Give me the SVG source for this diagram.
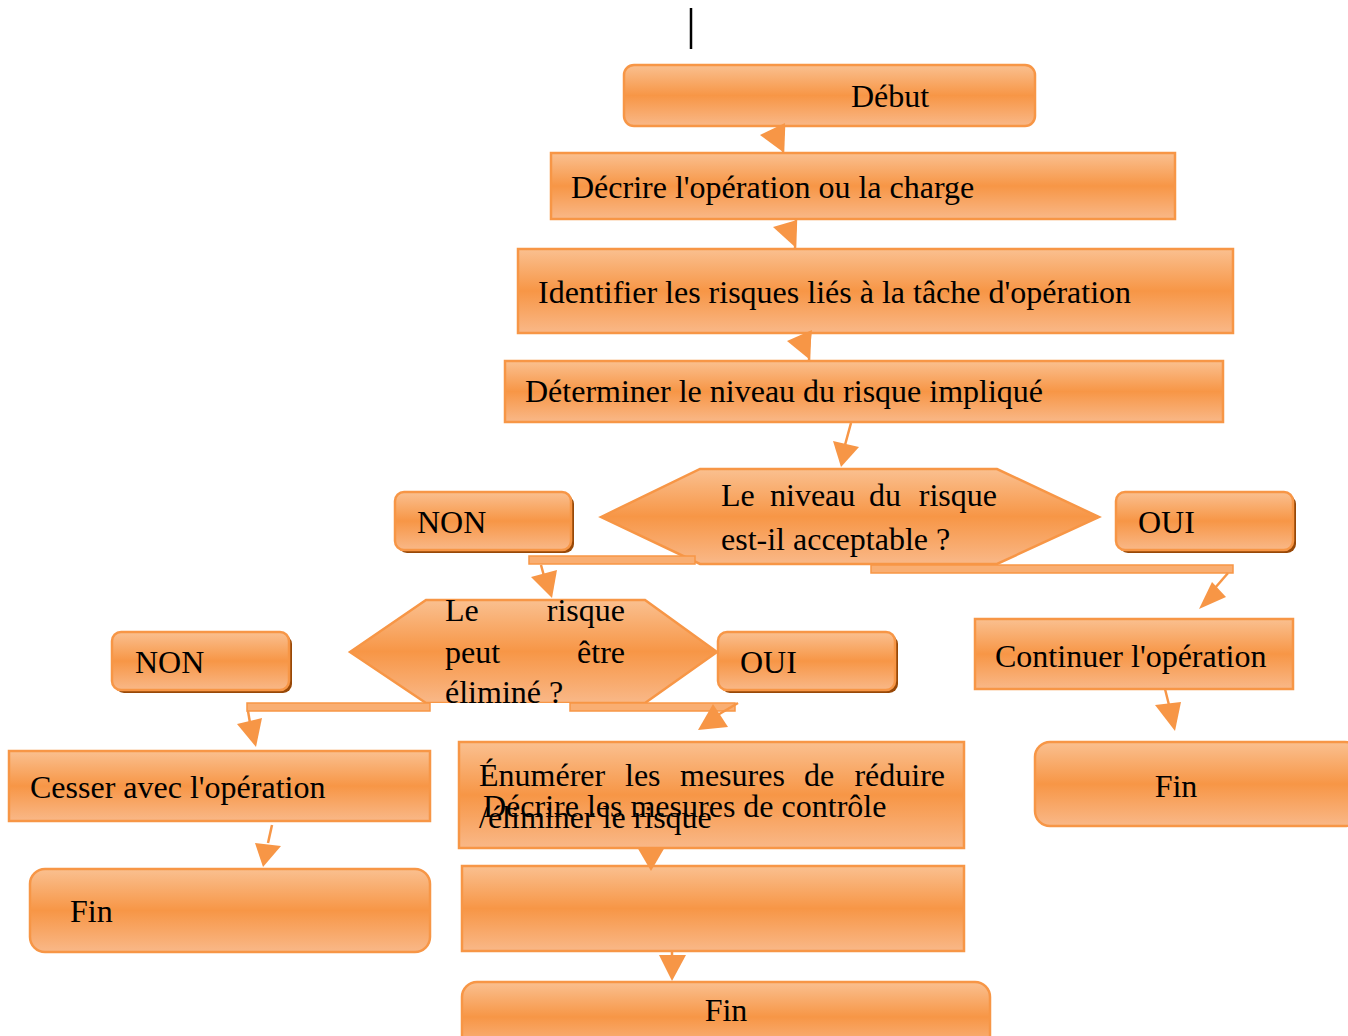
<svg xmlns="http://www.w3.org/2000/svg" width="1348" height="1036" viewBox="0 0 1348 1036">
<defs>
<linearGradient id="g" x1="0" y1="0" x2="0" y2="1">
<stop offset="0" stop-color="#fac090"/>
<stop offset="0.5" stop-color="#f79646"/>
<stop offset="1" stop-color="#f9b888"/>
</linearGradient>
<style>
.n{fill:url(#g);stroke:#f79646;stroke-width:2.5}
.sh{fill:#984807}
.t{font-size:32px;fill:#000}
.bar{fill:#f9ae72;stroke:#f79646;stroke-width:1.5}
.ln{stroke:#f79646;stroke-width:2.5;fill:none}
.ah{fill:#f79646}
</style>
</defs>
<rect width="1348" height="1036" fill="#fff"/>
<line x1="691" y1="8" x2="691" y2="49" stroke="#000" stroke-width="2.5"/>
<g font-family="Liberation Serif, Times New Roman, serif">
<g id="debut"><rect class="n" x="624" y="65" width="411" height="61" rx="10"/><text class="t" x="851" y="107">Début</text></g>
<g id="decrire"><rect class="n" x="551" y="153" width="624" height="66"/><text class="t" x="571" y="198">Décrire l'opération ou la charge</text></g>
<g id="identifier"><rect class="n" x="518" y="249" width="715" height="84"/><text class="t" x="538" y="303">Identifier les risques liés à la tâche d'opération</text></g>
<g id="determiner"><rect class="n" x="505" y="361" width="718" height="61"/><text class="t" x="525" y="402">Déterminer le niveau du risque impliqué</text></g>
<g id="decision1"><polygon class="n" points="601,517 700,469 997,469 1099,517 997,564 700,564"/><text class="t" y="506"><tspan x="721">Le</tspan><tspan x="770">niveau</tspan><tspan x="869">du</tspan><tspan x="997" text-anchor="end">risque</tspan></text><text class="t" x="721" y="550">est-il acceptable ?</text></g>
<g id="non1"><rect class="sh" x="398" y="495" width="176" height="58" rx="9"/><rect class="n" x="395" y="492" width="176" height="58" rx="9"/><text class="t" x="417" y="533">NON</text></g>
<g id="oui1"><rect class="sh" x="1119" y="495" width="177" height="58" rx="9"/><rect class="n" x="1116" y="492" width="177" height="58" rx="9"/><text class="t" x="1138" y="533">OUI</text></g>
<g id="decision2"><polygon class="n" points="350,652 426,600 645,600 717,652 645,703 426,703"/><rect x="430" y="703" width="140" height="10" fill="#fff"/><text class="t" y="621"><tspan x="445">Le</tspan><tspan x="625" text-anchor="end">risque</tspan></text><text class="t" y="663"><tspan x="445">peut</tspan><tspan x="625" text-anchor="end">être</tspan></text><text class="t" x="445" y="703">éliminé ?</text></g>
<g id="non2"><rect class="sh" x="115" y="635" width="177" height="58" rx="9"/><rect class="n" x="112" y="632" width="177" height="58" rx="9"/><text class="t" x="135" y="673">NON</text></g>
<g id="oui2"><rect class="sh" x="721" y="635" width="177" height="58" rx="9"/><rect class="n" x="718" y="632" width="177" height="58" rx="9"/><text class="t" x="740" y="673">OUI</text></g>
<g id="continuer"><rect class="n" x="975" y="619" width="318" height="70"/><text class="t" x="995" y="667">Continuer l'opération</text></g>
<g id="fin-droite"><rect class="n" x="1035" y="742" width="325" height="84" rx="15"/><text class="t" x="1176" y="797" text-anchor="middle">Fin</text></g>
<g id="cesser"><rect class="n" x="9" y="751" width="421" height="70"/><text class="t" x="30" y="798">Cesser avec l'opération</text></g>
<g id="fin-gauche"><rect class="n" x="30" y="869" width="400" height="83" rx="15"/><text class="t" x="70" y="922">Fin</text></g>
<g id="enumerer"><rect class="n" x="459" y="742" width="505" height="106"/><text class="t" y="786"><tspan x="479">Énumérer</tspan><tspan x="625">les</tspan><tspan x="680">mesures</tspan><tspan x="804">de</tspan><tspan x="945" text-anchor="end">réduire</tspan></text><text class="t" x="479" y="828">/éliminer le risque</text><text class="t" x="483" y="817">Décrire les mesures de contrôle</text></g>
<g id="controle"><rect class="n" x="462" y="866" width="502" height="85"/></g>
<g id="fin-bas"><rect class="n" x="462" y="982" width="528" height="70" rx="15"/><text class="t" x="726" y="1021" text-anchor="middle">Fin</text></g>
</g>
<g id="connectors">
<rect class="bar" x="529" y="556" width="166" height="8"/>
<rect class="bar" x="871" y="565" width="362" height="8"/>
<rect class="bar" x="247" y="703" width="183" height="8"/>
<rect class="bar" x="570" y="703" width="165" height="8"/>
<line class="ln" x1="784" y1="126" x2="783" y2="153"/>
<polygon class="ah" points="785,123 760,135 783,152"/>
<line class="ln" x1="796" y1="219" x2="795" y2="249"/>
<polygon class="ah" points="797,220 773,227 795,247"/>
<line class="ln" x1="810" y1="333" x2="809" y2="361"/>
<polygon class="ah" points="812,330 787,341 809,359"/>
<line class="ln" x1="851" y1="423" x2="845" y2="445"/>
<polygon class="ah" points="833,441 859,447 841,467"/>
<line class="ln" x1="541" y1="565" x2="544" y2="576"/>
<polygon class="ah" points="531,577 557,570 552,598"/>
<line class="ln" x1="1228" y1="573" x2="1215" y2="588"/>
<polygon class="ah" points="1212,582 1226,597 1199,609"/>
<line class="ln" x1="248" y1="711" x2="250" y2="723"/>
<polygon class="ah" points="237,724 262,718 256,747"/>
<line class="ln" x1="738" y1="703" x2="716" y2="716"/>
<polygon class="ah" points="713,704 728,727 698,730"/>
<line class="ln" x1="272" y1="825" x2="268" y2="843"/>
<polygon class="ah" points="255,843 281,846 263,867"/>
<polygon class="ah" points="637,847 665,847 651,871"/>
<line class="ln" x1="672" y1="951" x2="672" y2="957"/>
<polygon class="ah" points="659,955 686,955 672,981"/>
<line class="ln" x1="1165" y1="689" x2="1169" y2="705"/>
<polygon class="ah" points="1155,705 1181,702 1175,731"/>
</g>
</svg>
